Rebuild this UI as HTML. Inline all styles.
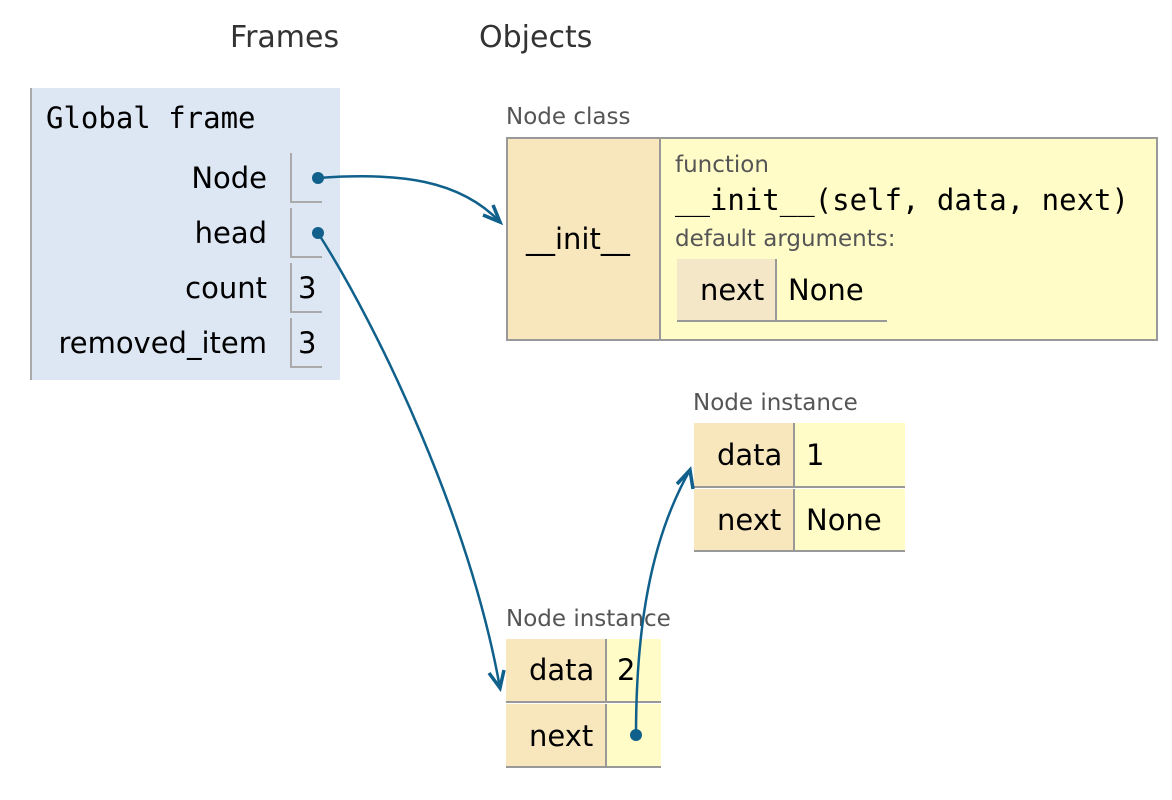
<!DOCTYPE html>
<html><head><meta charset="utf-8"><style>
body{margin:0;width:1172px;height:800px;background:#fff;position:relative;overflow:hidden;font-family:"DejaVu Sans","Liberation Sans",sans-serif;}
.a{position:absolute;white-space:nowrap;}
.lbl{font-size:23px;color:#555;}
.k{position:absolute;background:#f8e7bd;border-bottom:2px solid #999;}
.v{position:absolute;background:#fffcc8;border-bottom:2px solid #999;border-left:2px solid #999;}
.t{font-size:29px;color:#000;line-height:34px;}
.mono{font-family:"DejaVu Sans Mono","Liberation Mono",monospace;}
</style></head><body>
<div class="a" style="left:230px;top:20px;font-size:30px;color:#333">Frames</div>
<div class="a" style="left:479px;top:20px;font-size:30px;color:#333">Objects</div>

<div class="a" style="left:30px;top:88px;width:308px;height:292px;background:#dde6f3;border-left:2px solid #aaa;"></div>
<div class="a mono" style="left:46px;top:101px;font-size:29px;color:#000">Global frame</div>
<div class="a t" style="right:905px;top:161px">Node</div>
<div class="a t" style="right:905px;top:216px">head</div>
<div class="a t" style="right:905px;top:271px">count</div>
<div class="a t" style="right:905px;top:326px">removed_item</div>
<div class="a" style="left:290px;top:153px;width:30px;height:48px;border-left:2px solid #aaa;border-bottom:2px solid #aaa"></div>
<div class="a" style="left:290px;top:208px;width:30px;height:48px;border-left:2px solid #aaa;border-bottom:2px solid #aaa"></div>
<div class="a" style="left:290px;top:263px;width:30px;height:48px;border-left:2px solid #aaa;border-bottom:2px solid #aaa"></div>
<div class="a" style="left:290px;top:318px;width:30px;height:48px;border-left:2px solid #aaa;border-bottom:2px solid #aaa"></div>
<div class="a t" style="left:298px;top:271px">3</div>
<div class="a t" style="left:298px;top:326px">3</div>

<div class="a lbl" style="left:506px;top:104px">Node class</div>
<div class="a" style="left:506px;top:137px;width:648px;height:200px;border:2px solid #999;background:#fffcc8"></div>
<div class="a" style="left:508px;top:139px;width:151px;height:200px;background:#f8e7bd;border-right:2px solid #999"></div>
<div class="a t" style="left:526px;top:222px">__init__</div>
<div class="a" style="left:675px;top:152px;font-size:23px;color:#555">function</div>
<div class="a mono" style="left:675px;top:183px;font-size:29px">__init__(self, data, next)</div>
<div class="a" style="left:675px;top:226px;font-size:23px;color:#555">default arguments:</div>
<div class="a" style="left:677px;top:259px;width:98px;height:61px;background:#f3e7c8;border-bottom:2px solid #999"></div>
<div class="a" style="left:775px;top:259px;width:110px;height:61px;border-left:2px solid #999;border-bottom:2px solid #999"></div>
<div class="a t" style="left:700px;top:273px">next</div>
<div class="a t" style="left:788px;top:273px">None</div>

<div class="a lbl" style="left:693px;top:390px">Node instance</div>
<div class="k" style="left:694px;top:423px;width:99px;height:63px"></div>
<div class="v" style="left:793px;top:423px;width:110px;height:63px"></div>
<div class="k" style="left:694px;top:489px;width:99px;height:61px"></div>
<div class="v" style="left:793px;top:489px;width:110px;height:61px"></div>
<div class="a t" style="left:717px;top:438px">data</div>
<div class="a t" style="left:806px;top:438px">1</div>
<div class="a t" style="left:717px;top:503px">next</div>
<div class="a t" style="left:806px;top:503px">None</div>

<div class="a lbl" style="left:506px;top:606px">Node instance</div>
<div class="k" style="left:506px;top:639px;width:99px;height:62px"></div>
<div class="v" style="left:605px;top:639px;width:54px;height:62px"></div>
<div class="k" style="left:506px;top:704px;width:99px;height:62px"></div>
<div class="v" style="left:605px;top:704px;width:54px;height:62px"></div>
<div class="a t" style="left:529px;top:653px">data</div>
<div class="a t" style="left:617px;top:653px">2</div>
<div class="a t" style="left:529px;top:719px">next</div>

<svg class="a" style="left:0;top:0" width="1172" height="800">
<g stroke="#10608c" stroke-width="2.5" fill="none">
<path d="M318 178 C400 172 460 180 500 222"/>
<path d="M483 215 L500 222 L493 205" stroke-width="3.5"/>
<path d="M318 233 C380 330 470 520 500 688"/>
<path d="M489 673 L500 688 L504 670" stroke-width="3.5"/>
<path d="M636 735 C636 630 650 540 690 470"/>
<path d="M677 484 L690 470 L693 489" stroke-width="3.5"/>
</g>
<g fill="#10608c"><circle cx="318" cy="178" r="6"/><circle cx="318" cy="233" r="6"/><circle cx="636" cy="735" r="6"/></g>
</svg>
</body></html>
